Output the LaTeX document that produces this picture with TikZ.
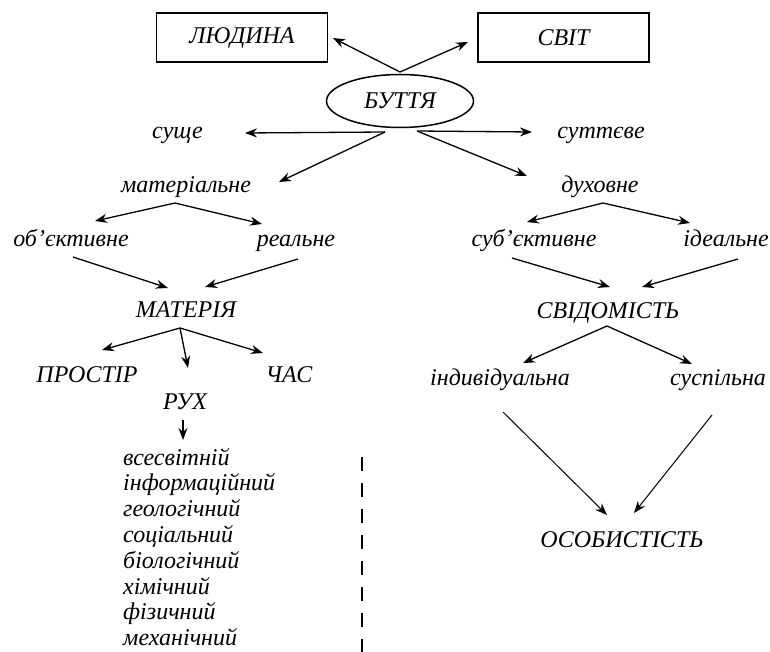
\documentclass[tikz,border=0pt]{standalone}
\usepackage{fontspec}
\setmainfont{Liberation Serif}
\usetikzlibrary{arrows.meta,shapes.geometric}
\begin{document}
\begin{tikzpicture}[x=1pt,y=-1pt,
  txt/.style={font=\fontsize{24}{28}\selectfont\itshape, inner sep=0pt, anchor=base},
  boxnode/.style={draw, line width=1.8pt, minimum width=171pt, minimum height=49pt, inner sep=0pt, font=\fontsize{24}{28}\selectfont\itshape},
  arr/.style={line width=1.3pt, -{Stealth[length=12pt,width=9pt]}},
  thinarr/.style={line width=1pt, -{Stealth[length=12pt,width=9pt]}},
]
\useasboundingbox (0,0) rectangle (770,652);
% top
\node[boxnode] (lud) at (242,37.5) {ЛЮДИНА};
\node[boxnode] (svit) at (563.5,37.5) {СВІТ};
\node[draw, ellipse, line width=1.5pt, minimum width=147pt, minimum height=53pt, inner sep=0pt, font=\fontsize{24}{28}\selectfont\itshape] (but) at (400,101) {БУТТЯ};
% text nodes
\node[txt] (sushche) at (177.5,139) {суще};
\node[txt] (sutt) at (601,139) {суттєве};
\node[txt] (mat) at (186,193) {матеріальне};
\node[txt] (duh) at (600,193) {духовне};
\node[txt] (obj) at (71,247) {об'єктивне};
\node[txt] (real) at (296,247) {реальне};
\node[txt] (subj) at (534,247) {суб'єктивне};
\node[txt] (ideal) at (726,247) {ідеальне};
\node[txt] (materia) at (186,317) {МАТЕРІЯ};
\node[txt] (svid) at (608,318) {СВІДОМІСТЬ};
\node[txt] (prostir) at (87,382) {ПРОСТІР};
\node[txt] (chas) at (289,382) {ЧАС};
\node[txt] (ruh) at (185,409) {РУХ};
\node[txt] (indiv) at (500,385) {індивідуальна};
\node[txt] (susp) at (718,385) {суспільна};
\node[txt] (osob) at (622,547) {ОСОБИСТІСТЬ};
% list
\node[txt, anchor=base west] (l1) at (123,465) {всесвітній};
\node[txt, anchor=base west] (l2) at (123,490.8) {інформаційний};
\node[txt, anchor=base west] (l3) at (123,516.6) {геологічний};
\node[txt, anchor=base west] (l4) at (123,542.4) {соціальний};
\node[txt, anchor=base west] (l5) at (123,568.2) {біологічний};
\node[txt, anchor=base west] (l6) at (123,594) {хімічний};
\node[txt, anchor=base west] (l7) at (123,619.8) {фізичний};
\node[txt, anchor=base west] (l8) at (123,645.6) {механічний};
% apex coordinates
\coordinate (top) at ([shift={(0,-29)}]but.center);
\coordinate (bl) at ([shift={(-15,31)}]but.center);
\coordinate (br) at ([shift={(17,30)}]but.center);
\coordinate (matapex) at ([shift={(-11,10)}]mat.base);
\coordinate (duhapex) at ([shift={(3,10)}]duh.base);
\coordinate (materiaapex) at ([shift={(-6,11)}]materia.base);
\coordinate (svidapex) at ([shift={(-1,8)}]svid.base);
% arrows
\draw[arr] (top) -- ([shift={(91,0.5)}]lud.center);
\draw[arr] (top) -- ([shift={(-95.5,4.5)}]svit.center);
\draw[arr] (bl) -- ([shift={(67.5,-6)}]sushche.base);
\draw[arr] (br) -- ([shift={(-69,-7)}]sutt.base);
\draw[arr] (bl) -- ([shift={(93,-11)}]mat.base);
\draw[arr] (br) -- ([shift={(-73,-17)}]duh.base);
\draw[arr] (matapex) -- ([shift={(24,-26)}]obj.base);
\draw[arr] (matapex) -- ([shift={(-34,-23)}]real.base);
\draw[arr] ([shift={(2,10)}]obj.base) -- ([shift={(-18,-29)}]materia.base);
\draw[arr] ([shift={(2,12)}]real.base) -- ([shift={(19,-30)}]materia.base);
\draw[arr] (materiaapex) -- ([shift={(15,-32)}]prostir.base);
\draw[arr] (materiaapex) -- ([shift={(3,-41)}]ruh.base);
\draw[arr] (materiaapex) -- ([shift={(-26,-29)}]chas.base);
\draw[arr] ([shift={(-2,11)}]ruh.base) -- ([shift={(-2,31)}]ruh.base);
\draw[arr] (duhapex) -- ([shift={(-7,-25)}]subj.base);
\draw[arr] (duhapex) -- ([shift={(-36,-24)}]ideal.base);
\draw[arr] ([shift={(-22,11)}]subj.base) -- ([shift={(2,-31)}]svid.base);
\draw[arr] ([shift={(12,12)}]ideal.base) -- ([shift={(34,-31)}]svid.base);
\draw[arr] (svidapex) -- ([shift={(23,-22)}]indiv.base);
\draw[arr] (svidapex) -- ([shift={(-26,-21)}]susp.base);
\draw[thinarr] ([shift={(3,27)}]indiv.base) -- ([shift={(-15,-32)}]osob.base);
\draw[thinarr] ([shift={(-6,30)}]susp.base) -- ([shift={(12,-34)}]osob.base);
% dashed divider
\coordinate (dtop) at ([shift={(239,-8)}]l1.base west);
\coordinate (dbot) at (362,652);
\draw[line width=1.2pt, dash pattern=on 14pt off 12pt] (dtop) -- (dbot);
\end{tikzpicture}
\end{document}
